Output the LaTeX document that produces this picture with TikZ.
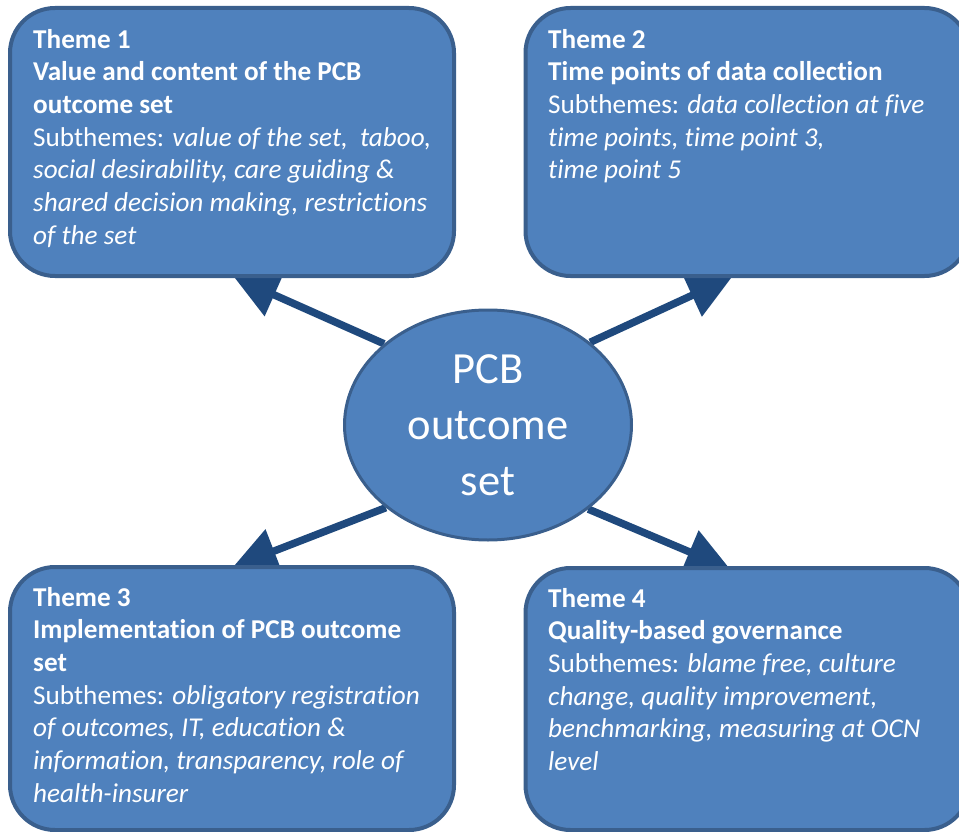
\documentclass[tikz,border=0pt]{standalone}
\usepackage{fontspec}
\setmainfont{Carlito}[Ligatures=NoCommon]
\usetikzlibrary{shapes.geometric,arrows.meta,backgrounds}
\definecolor{boxfill}{HTML}{4F81BD}
\definecolor{boxline}{HTML}{3A5F8D}
\definecolor{arrowcol}{HTML}{1F497D}
\begin{document}
\begin{tikzpicture}[x=1pt,y=-1pt,
  themebox/.style={draw=boxline,fill=boxfill,line width=4pt,rounded corners=45pt,
    minimum width=444pt,inner sep=0pt},
  themetext/.style={anchor=base west,align=left,text=white,inner sep=0pt,
    font=\fontsize{27.2}{32.7}\selectfont},
  centre/.style={ellipse,draw=boxline,fill=boxfill,line width=3pt,
    minimum width=287pt,minimum height=230pt,inner sep=0pt,align=center,text=white,
    font=\fontsize{44.5}{56}\selectfont},
  conn/.style={draw=arrowcol,line width=7.5pt,-{Triangle[length=44pt,width=45pt]}}]
\useasboundingbox (0,0) rectangle (959,832);
\node[themebox,minimum height=268pt] (b1) at (232,142) {};
\node[themebox,minimum height=268pt] (b2) at (747.5,142) {};
\node[themebox,minimum height=263pt] (b3) at (232,698.5) {};
\node[themebox,minimum height=262pt] (b4) at (747.5,699) {};
% anchor base west = baseline of the last line
\node[themetext] (t1) at (33,244.2) {\textbf{Theme 1}\\\textbf{Value and content of the PCB}\\\textbf{outcome set}\\Subthemes: \textit{value of the set,\ \ taboo,}\\\textit{social desirability, care guiding \&}\\\textit{shared decision making, restrictions}\\\textit{of the set}};
\node[themetext] (t2) at (548,178.8) {\textbf{Theme 2}\\\textbf{Time points of data collection}\\Subthemes: \textit{data collection at five}\\\textit{time points, time point 3,}\\\textit{time point 5}};
\node[themetext] (t3) at (33,802.2) {\textbf{Theme 3}\\\textbf{Implementation of PCB outcome}\\\textbf{set}\\Subthemes: \textit{obligatory registration}\\\textit{of outcomes, IT, education \&}\\\textit{information, transparency, role of}\\\textit{health-insurer}};
\node[themetext] (t4) at (548,770.5) {\textbf{Theme 4}\\\textbf{Quality-based governance}\\Subthemes: \textit{blame free, culture}\\\textit{change, quality improvement,}\\\textit{benchmarking, measuring at OCN}\\\textit{level}};
\node[centre] (c) at (488,425) {PCB\\outcome\\set};
\coordinate (p1) at (234,277);
\coordinate (p2) at (732,277);
\coordinate (p3) at (233,567);
\coordinate (p4) at (730,569);
\begin{pgfonlayer}{background}
\draw[conn] (c.142) -- (p1);
\draw[conn] (c.39) -- (p2);
\draw[conn] (c.219) -- (p3);
\draw[conn] (c.320.6) -- (p4);
\end{pgfonlayer}
\end{tikzpicture}
\end{document}
